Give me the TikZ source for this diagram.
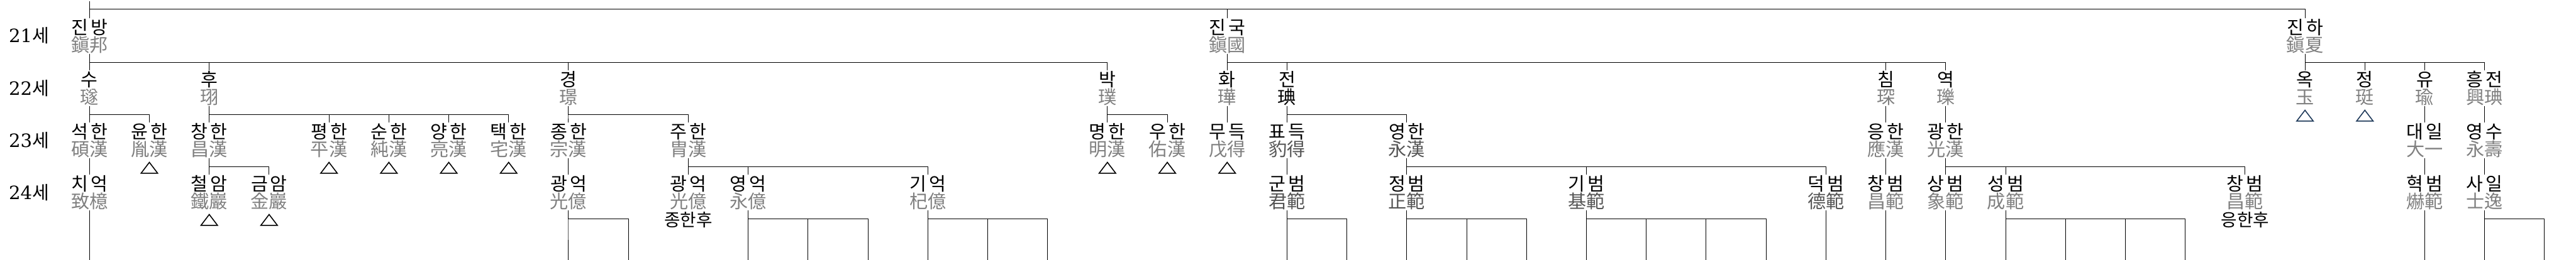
\documentclass[tikz,border=0pt]{standalone}
\usepackage{fontspec}
\usetikzlibrary{positioning,shapes.geometric}
\newfontfamily\hg[LetterSpace=14]{Noto Sans CJK KR}
\newfontfamily\hj{Noto Sans CJK KR}
\newfontfamily\numfont{DejaVu Serif}
\definecolor{hanjagray}{RGB}{128,128,128}
\definecolor{hanjadark}{RGB}{85,85,85}
\definecolor{triblue}{RGB}{31,58,90}
\colorlet{hanja}{hanjagray}
\newcommand\nm[2]{{\hg #1}\\{\hj\color{hanja}#2}}
\tikzset{
  person/.style={align=center, inner sep=0pt, text height=0.767cm, text depth=0.043cm,
    font=\fontsize{12}{11.38}\selectfont},
  dark/.code={\colorlet{hanja}{hanjadark}},
  ink/.code={\colorlet{hanja}{black}},
  tri/.style={draw, line width=0.65pt, isosceles triangle, isosceles triangle stretches,
    shape border rotate=90, minimum width=0.38cm, minimum height=0.25cm, inner sep=0pt},
  note/.style={inner sep=0pt, font=\fontsize{11.4}{11.4}\selectfont\hj},
  gen/.style={inner sep=0pt, font=\fontsize{12}{12}\selectfont},
}
\begin{document}
\begin{tikzpicture}[x=1.3763cm, y=-1.2cm, line width=0.4pt]
    \useasboundingbox (-2.057cm,0.825cm) rectangle (57.153cm,-5.155cm);
    % generations
    \node[gen] (g21) at (-1.01,0) {{\numfont 21}{\hj 세}};
    \node[gen] (g22) at (-1.01,1) {{\numfont 22}{\hj 세}};
    \node[gen] (g23) at (-1.01,2) {{\numfont 23}{\hj 세}};
    \node[gen] (g24) at (-1.01,3) {{\numfont 24}{\hj 세}};
    % 21세
    \node[person] (jinbang) at (0,0) {\nm{진방}{鎭邦}};
    \node[person] (jinguk) at (19,0) {\nm{진국}{鎭國}};
    \node[person] (jinha) at (37,0) {\nm{진하}{鎭夏}};
    % 22세
    \node[person] (su) at (0,1) {\nm{수}{璲}};
    \node[person] (hu) at (2,1) {\nm{후}{珝}};
    \node[person] (gyeong) at (8,1) {\nm{경}{璟}};
    \node[person] (bak) at (17,1) {\nm{박}{璞}};
    \node[person] (hwa) at (19,1) {\nm{화}{璍}};
    \node[person,ink] (jeon) at (20,1) {\nm{전}{琠}};
    \node[person] (chim) at (30,1) {\nm{침}{琛}};
    \node[person] (yeok) at (31,1) {\nm{역}{瓅}};
    \node[person] (ok) at (37,1) {\nm{옥}{玉}};
    \node[person] (jeong) at (38,1) {\nm{정}{珽}};
    \node[person] (yu) at (39,1) {\nm{유}{瑜}};
    \node[person] (heungjeon) at (40,1) {\nm{흥전}{興琠}};
    % 23세
    \node[person] (seokhan) at (0,2) {\nm{석한}{碩漢}};
    \node[person] (yunhan) at (1,2) {\nm{윤한}{胤漢}};
    \node[person] (changhan) at (2,2) {\nm{창한}{昌漢}};
    \node[person] (pyeonghan) at (4,2) {\nm{평한}{平漢}};
    \node[person] (sunhan) at (5,2) {\nm{순한}{純漢}};
    \node[person] (yanghan) at (6,2) {\nm{양한}{亮漢}};
    \node[person] (taekhan) at (7,2) {\nm{택한}{宅漢}};
    \node[person] (jonghan) at (8,2) {\nm{종한}{宗漢}};
    \node[person] (juhan) at (10,2) {\nm{주한}{胄漢}};
    \node[person] (myeonghan) at (17,2) {\nm{명한}{明漢}};
    \node[person] (uhan) at (18,2) {\nm{우한}{佑漢}};
    \node[person] (mudeuk) at (19,2) {\nm{무득}{戊得}};
    \node[person,dark] (pyodeuk) at (20,2) {\nm{표득}{豹得}};
    \node[person,dark] (yeonghan) at (22,2) {\nm{영한}{永漢}};
    \node[person] (eunghan) at (30,2) {\nm{응한}{應漢}};
    \node[person] (gwanghan) at (31,2) {\nm{광한}{光漢}};
    \node[person] (daeil) at (39,2) {\nm{대일}{大一}};
    \node[person] (yeongsu) at (40,2) {\nm{영수}{永壽}};
    % 24세
    \node[person] (chieok) at (0,3) {\nm{치억}{致檍}};
    \node[person] (cheoram) at (2,3) {\nm{철암}{鐵巖}};
    \node[person] (geumam) at (3,3) {\nm{금암}{金巖}};
    \node[person] (gwangeok) at (8,3) {\nm{광억}{光億}};
    \node[person] (gwangeokb) at (10,3) {\nm{광억}{光億}};
    \node[person] (yeongeok) at (11,3) {\nm{영억}{永億}};
    \node[person] (gieok) at (14,3) {\nm{기억}{杞億}};
    \node[person,dark] (gunbeom) at (20,3) {\nm{군범}{君範}};
    \node[person,dark] (jeongbeom) at (22,3) {\nm{정범}{正範}};
    \node[person,dark] (gibeom) at (25,3) {\nm{기범}{基範}};
    \node[person,dark] (deokbeom) at (29,3) {\nm{덕범}{德範}};
    \node[person] (changbeom) at (30,3) {\nm{창범}{昌範}};
    \node[person] (sangbeom) at (31,3) {\nm{상범}{象範}};
    \node[person] (seongbeom) at (32,3) {\nm{성범}{成範}};
    \node[person] (changbeomb) at (36,3) {\nm{창범}{昌範}};
    \node[person] (hyeokbeom) at (39,3) {\nm{혁범}{爀範}};
    \node[person] (sail) at (40,3) {\nm{사일}{士逸}};
    % no heirs
    \node[tri, below=0.07cm of yunhan] (yunhan-t) {};
    \node[tri, below=0.07cm of pyeonghan] (pyeonghan-t) {};
    \node[tri, below=0.07cm of sunhan] (sunhan-t) {};
    \node[tri, below=0.07cm of yanghan] (yanghan-t) {};
    \node[tri, below=0.07cm of taekhan] (taekhan-t) {};
    \node[tri, below=0.07cm of myeonghan] (myeonghan-t) {};
    \node[tri, below=0.07cm of uhan] (uhan-t) {};
    \node[tri, below=0.07cm of mudeuk] (mudeuk-t) {};
    \node[tri, below=0.07cm of cheoram] (cheoram-t) {};
    \node[tri, below=0.07cm of geumam] (geumam-t) {};
    \node[tri, draw=triblue, below=0.07cm of ok] (ok-t) {};
    \node[tri, draw=triblue, below=0.07cm of jeong] (jeong-t) {};
    \node[note, below=0.04cm of gwangeokb] (gwangeokb-n) {종한후};
    \node[note, below=0.04cm of changbeomb] (changbeomb-n) {응한후};
    % ends of the lines
    \coordinate (root) at ([yshift=0.39cm]jinbang.north);
    \coordinate (b0) at (0,4.3);
    \coordinate (b8) at (8,4.3);
    \coordinate (b9) at (9,4.3);
    \coordinate (b11) at (11,4.3);
    \coordinate (b12) at (12,4.3);
    \coordinate (b13) at (13,4.3);
    \coordinate (b14) at (14,4.3);
    \coordinate (b15) at (15,4.3);
    \coordinate (b16) at (16,4.3);
    \coordinate (b20) at (20,4.3);
    \coordinate (b21) at (21,4.3);
    \coordinate (b22) at (22,4.3);
    \coordinate (b23) at (23,4.3);
    \coordinate (b24) at (24,4.3);
    \coordinate (b25) at (25,4.3);
    \coordinate (b26) at (26,4.3);
    \coordinate (b27) at (27,4.3);
    \coordinate (b28) at (28,4.3);
    \coordinate (b29) at (29,4.3);
    \coordinate (b30) at (30,4.3);
    \coordinate (b31) at (31,4.3);
    \coordinate (b32) at (32,4.3);
    \coordinate (b33) at (33,4.3);
    \coordinate (b34) at (34,4.3);
    \coordinate (b35) at (35,4.3);
    \coordinate (b39) at (39,4.3);
    \coordinate (b40) at (40,4.3);
    \coordinate (b41) at (41,4.3);
    % 21세
    \draw (root) -- (jinbang.north);
    \draw (root) ++(0,-0.19cm) -| (jinguk.north);
    \draw (root) ++(0,-0.19cm) -| (jinha.north);
    % 22세
    \draw (jinbang.south) -- ++(0,-0.2cm) -| (su.north);
    \draw (jinbang.south) -- ++(0,-0.2cm) -| (hu.north);
    \draw (jinbang.south) -- ++(0,-0.2cm) -| (gyeong.north);
    \draw (jinbang.south) -- ++(0,-0.2cm) -| (bak.north);
    \draw (jinguk.south) -- ++(0,-0.2cm) -| (hwa.north);
    \draw (jinguk.south) -- ++(0,-0.2cm) -| (jeon.north);
    \draw (jinguk.south) -- ++(0,-0.2cm) -| (chim.north);
    \draw (jinguk.south) -- ++(0,-0.2cm) -| (yeok.north);
    \draw (jinha.south) -- ++(0,-0.2cm) -| (ok.north);
    \draw (jinha.south) -- ++(0,-0.2cm) -| (jeong.north);
    \draw (jinha.south) -- ++(0,-0.2cm) -| (yu.north);
    \draw (jinha.south) -- ++(0,-0.2cm) -| (heungjeon.north);
    % 23세
    \draw (su.south) -- ++(0,-0.2cm) -| (seokhan.north);
    \draw (su.south) -- ++(0,-0.2cm) -| (yunhan.north);
    \draw (hu.south) -- ++(0,-0.2cm) -| (changhan.north);
    \draw (hu.south) -- ++(0,-0.2cm) -| (pyeonghan.north);
    \draw (hu.south) -- ++(0,-0.2cm) -| (sunhan.north);
    \draw (hu.south) -- ++(0,-0.2cm) -| (yanghan.north);
    \draw (hu.south) -- ++(0,-0.2cm) -| (taekhan.north);
    \draw (gyeong.south) -- ++(0,-0.2cm) -| (jonghan.north);
    \draw (gyeong.south) -- ++(0,-0.2cm) -| (juhan.north);
    \draw (bak.south) -- ++(0,-0.2cm) -| (myeonghan.north);
    \draw (bak.south) -- ++(0,-0.2cm) -| (uhan.north);
    \draw (hwa.south) -- (mudeuk.north);
    \draw (jeon.south) -- ++(0,-0.2cm) -| (pyodeuk.north);
    \draw (jeon.south) -- ++(0,-0.2cm) -| (yeonghan.north);
    \draw (chim.south) -- (eunghan.north);
    \draw (yeok.south) -- (gwanghan.north);
    \draw (yu.south) -- (daeil.north);
    \draw (heungjeon.south) -- (yeongsu.north);
    % 24세
    \draw (seokhan.south) -- (chieok.north);
    \draw (changhan.south) -- ++(0,-0.2cm) -| (cheoram.north);
    \draw (changhan.south) -- ++(0,-0.2cm) -| (geumam.north);
    \draw (jonghan.south) -- (gwangeok.north);
    \draw (juhan.south) -- ++(0,-0.2cm) -| (gwangeokb.north);
    \draw (juhan.south) -- ++(0,-0.2cm) -| (yeongeok.north);
    \draw (juhan.south) -- ++(0,-0.2cm) -| (gieok.north);
    \draw (pyodeuk.south) -- (gunbeom.north);
    \draw (yeonghan.south) -- ++(0,-0.2cm) -| (jeongbeom.north);
    \draw (yeonghan.south) -- ++(0,-0.2cm) -| (gibeom.north);
    \draw (yeonghan.south) -- ++(0,-0.2cm) -| (deokbeom.north);
    \draw (eunghan.south) -- (changbeom.north);
    \draw (gwanghan.south) -- ++(0,-0.2cm) -| (sangbeom.north);
    \draw (gwanghan.south) -- ++(0,-0.2cm) -| (seongbeom.north);
    \draw (gwanghan.south) -- ++(0,-0.2cm) -| (changbeomb.north);
    \draw (daeil.south) -- (hyeokbeom.north);
    \draw (yeongsu.south) -- (sail.north);
    % 25세
    \draw (chieok.south) -- (b0);
    \draw (gwangeok.south) -- ++(0,-0.2cm) -| (b8);
    \draw (gwangeok.south) -- ++(0,-0.2cm) -| (b9);
    \draw (yeongeok.south) -- ++(0,-0.2cm) -| (b11);
    \draw (yeongeok.south) -- ++(0,-0.2cm) -| (b12);
    \draw (yeongeok.south) -- ++(0,-0.2cm) -| (b13);
    \draw (gieok.south) -- ++(0,-0.2cm) -| (b14);
    \draw (gieok.south) -- ++(0,-0.2cm) -| (b15);
    \draw (gieok.south) -- ++(0,-0.2cm) -| (b16);
    \draw (gunbeom.south) -- ++(0,-0.2cm) -| (b20);
    \draw (gunbeom.south) -- ++(0,-0.2cm) -| (b21);
    \draw (jeongbeom.south) -- ++(0,-0.2cm) -| (b22);
    \draw (jeongbeom.south) -- ++(0,-0.2cm) -| (b23);
    \draw (jeongbeom.south) -- ++(0,-0.2cm) -| (b24);
    \draw (gibeom.south) -- ++(0,-0.2cm) -| (b25);
    \draw (gibeom.south) -- ++(0,-0.2cm) -| (b26);
    \draw (gibeom.south) -- ++(0,-0.2cm) -| (b27);
    \draw (gibeom.south) -- ++(0,-0.2cm) -| (b28);
    \draw (deokbeom.south) -- (b29);
    \draw (changbeom.south) -- (b30);
    \draw (sangbeom.south) -- (b31);
    \draw (seongbeom.south) -- ++(0,-0.2cm) -| (b32);
    \draw (seongbeom.south) -- ++(0,-0.2cm) -| (b33);
    \draw (seongbeom.south) -- ++(0,-0.2cm) -| (b34);
    \draw (seongbeom.south) -- ++(0,-0.2cm) -| (b35);
    \draw (hyeokbeom.south) -- (b39);
    \draw (sail.south) -- ++(0,-0.2cm) -| (b40);
    \draw (sail.south) -- ++(0,-0.2cm) -| (b41);
\end{tikzpicture}
\end{document}
